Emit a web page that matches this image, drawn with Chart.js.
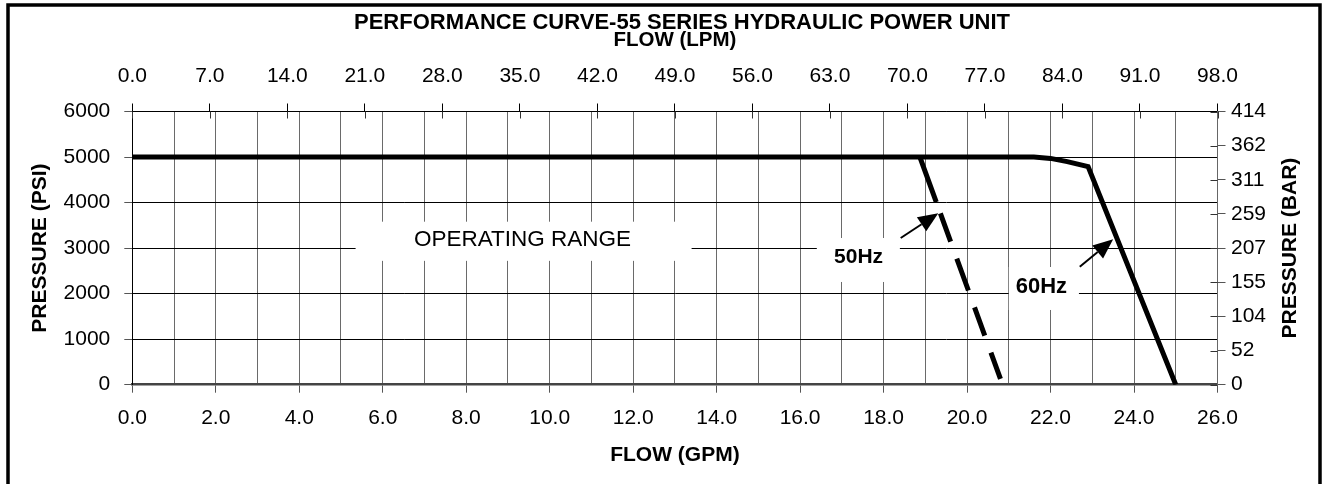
<!DOCTYPE html>
<html>
<head>
<meta charset="utf-8">
<title>Performance Curve - 55 Series Hydraulic Power Unit</title>
<script src="https://cdn.jsdelivr.net/npm/chart.js@4.4.1/dist/chart.umd.min.js"></script>
<style>
  html, body { margin: 0; padding: 0; background: #fff; }
  #wrap { width: 1322px; height: 484px; }
</style>
</head>
<body>
<div id="wrap"><canvas id="perfChart" width="1322" height="484"></canvas></div>
<script>
// tick labels
const gpmLabels = ['0.0', '2.0', '4.0', '6.0', '8.0', '10.0', '12.0', '14.0', '16.0', '18.0', '20.0', '22.0', '24.0', '26.0'];
const lpmLabels = ['0.0', '7.0', '14.0', '21.0', '28.0', '35.0', '42.0', '49.0', '56.0', '63.0', '70.0', '77.0', '84.0', '91.0', '98.0'];
const psiLabels = ['0', '1000', '2000', '3000', '4000', '5000', '6000'];
const barLabels = ['0', '52', '104', '155', '207', '259', '311', '362', '414'];

// curves (flow in GPM, pressure in PSI)
const flow60 = [0, 21.6, 22.0, 22.4, 22.9, 25.0];
const psi60 = [5000, 5000, 4970, 4900, 4790, 0];
const flow50 = [18.87, 20.8];
const psi50 = [5000, 130];

const FONT = "'Liberation Sans', Arial, Helvetica, sans-serif";
Chart.defaults.font.family = FONT;
Chart.defaults.color = '#000';

// text boxes on the plot, placed in data units
const notes = [
    { text: 'OPERATING RANGE', x: 9.35, y: 3180, size: 22.5, bold: false, box: [5.35, 13.4, 2720, 3580] },
    { text: '50Hz', x: 17.4, y: 2790, size: 21, bold: true, box: [16.4, 18.39, 2256, 3222] },
    { text: '60Hz', x: 21.78, y: 2150, size: 22, bold: true, box: [21.0, 22.68, 1641, 2585] }
];
const arrows = [
    { from: [18.41, 3222], to: [19.31, 3765] },
    { from: [22.70, 2592], to: [23.50, 3193] }
];

function fixWidth(w) {
    return function(scale) { scale.width = w; };
}
function fixHeight(h) {
    return function(scale) { scale.height = h; };
}

// short marks that poke into the plot from the top and right axes
function innerTicks(chart) {
    const c = chart.ctx;
    const top = chart.scales.x2, right = chart.scales.y2;
    c.save();
    c.strokeStyle = '#333';
    c.lineWidth = 1;
    c.beginPath();
    top.ticks.forEach(t => {
        const px = Math.round(top.getPixelForValue(t.value)) + 0.5;
        c.moveTo(px, top.bottom);
        c.lineTo(px, top.bottom + 7);
    });
    right.ticks.forEach(t => {
        const py = Math.round(right.getPixelForValue(t.value)) + 0.5;
        c.moveTo(right.left, py);
        c.lineTo(right.left - 7, py);
    });
    c.stroke();
    c.restore();
}

const curveLabels = {
    id: 'curveLabels',
    beforeDatasetsDraw(chart) {
        const c = chart.ctx;
        const xs = chart.scales.x, ys = chart.scales.y;
        innerTicks(chart);
        c.save();
        notes.forEach(n => {
            const l = xs.getPixelForValue(n.box[0]), r = xs.getPixelForValue(n.box[1]);
            const t = ys.getPixelForValue(n.box[3]), b = ys.getPixelForValue(n.box[2]);
            c.fillStyle = '#fff';
            c.fillRect(l, t, r - l, b - t);
            c.fillStyle = '#000';
            c.font = (n.bold ? 'bold ' : '') + n.size + 'px ' + FONT;
            c.textAlign = 'center';
            c.textBaseline = 'middle';
            c.fillText(n.text, xs.getPixelForValue(n.x), ys.getPixelForValue(n.y));
        });
        arrows.forEach(a => {
            const x1 = xs.getPixelForValue(a.from[0]), y1 = ys.getPixelForValue(a.from[1]);
            const x2 = xs.getPixelForValue(a.to[0]), y2 = ys.getPixelForValue(a.to[1]);
            const ang = Math.atan2(y2 - y1, x2 - x1);
            const head = 20, half = 8.5;
            const bx = x2 - head * Math.cos(ang), by = y2 - head * Math.sin(ang);
            c.strokeStyle = '#000';
            c.lineWidth = 2;
            c.beginPath();
            c.moveTo(x1, y1);
            c.lineTo(bx, by);
            c.stroke();
            c.beginPath();
            c.moveTo(x2, y2);
            c.lineTo(bx + half * Math.sin(ang), by - half * Math.cos(ang));
            c.lineTo(bx - half * Math.sin(ang), by + half * Math.cos(ang));
            c.closePath();
            c.fill();
        });
        c.restore();
    },
    afterDraw(chart) {
        const c = chart.ctx;
        c.save();
        // outer frame
        c.strokeStyle = '#000';
        c.lineWidth = 3.5;
        c.strokeRect(8, 5, 1312, 500);
        // main title
        c.fillStyle = '#000';
        c.font = 'bold 22px ' + FONT;
        c.textAlign = 'center';
        c.textBaseline = 'middle';
        c.fillText('PERFORMANCE CURVE-55 SERIES HYDRAULIC POWER UNIT', 682, 23);
        // right axis title, reads bottom to top
        const area = chart.chartArea;
        c.translate(1290, (area.top + area.bottom) / 2);
        c.rotate(-Math.PI / 2);
        c.font = 'bold 21px ' + FONT;
        c.fillText('PRESSURE (BAR)', 0, 0);
        c.restore();
    }
};

const ctx = document.getElementById('perfChart').getContext('2d');

new Chart(ctx, {
    type: 'line',
    data: {
        datasets: [{
            label: '60Hz',
            data: flow60.map((f, i) => ({ x: f, y: psi60[i] })),
            borderColor: '#000',
            borderWidth: 5,
            pointRadius: 0,
            tension: 0,
            xAxisID: 'x',
            yAxisID: 'y'
        }, {
            label: '50Hz',
            data: flow50.map((f, i) => ({ x: f, y: psi50[i] })),
            borderColor: '#000',
            borderWidth: 5,
            borderDash: [48, 12, 30, 18, 34, 18, 30, 18, 60, 10],
            pointRadius: 0,
            tension: 0,
            xAxisID: 'x',
            yAxisID: 'y'
        }]
    },
    options: {
        responsive: false,
        animation: false,
        layout: { padding: 0 },
        plugins: {
            legend: { display: false },
            tooltip: { enabled: false },
            title: { display: false }
        },
        scales: {
            x: {
                type: 'linear',
                position: 'bottom',
                min: 0,
                max: 26,
                afterFit: fixHeight(99.3),
                ticks: {
                    stepSize: 1,
                    autoSkip: false,
                    maxRotation: 0,
                    padding: 13,
                    font: { size: 21 },
                    callback: (v, i) => i % 2 === 0 ? gpmLabels[i / 2] : ''
                },
                grid: {
                    color: '#6a6a6a',
                    lineWidth: 1,
                    tickLength: 8,
                    tickColor: c => c.index % 2 === 0 ? '#555' : 'rgba(0,0,0,0)'
                },
                border: { color: '#444', width: 2.5 },
                title: {
                    display: true,
                    text: 'FLOW (GPM)',
                    font: { size: 21, weight: 'bold' },
                    padding: { top: 0, bottom: 16 }
                }
            },
            x2: {
                type: 'linear',
                position: 'top',
                min: 0,
                max: 98,
                afterFit: fixHeight(111.5),
                ticks: {
                    stepSize: 7,
                    autoSkip: false,
                    maxRotation: 0,
                    padding: 15,
                    font: { size: 21 },
                    callback: (v, i) => lpmLabels[i]
                },
                grid: { drawOnChartArea: false, tickLength: 8, color: '#000' },
                border: { color: '#000' },
                title: {
                    display: true,
                    text: 'FLOW (LPM)',
                    font: { size: 20.5, weight: 'bold' },
                    padding: { top: 27.7, bottom: 0 }
                }
            },
            y: {
                position: 'left',
                min: 0,
                max: 6000,
                afterFit: fixWidth(132.3),
                ticks: {
                    stepSize: 1000,
                    padding: 14,
                    font: { size: 21 },
                    callback: (v, i) => psiLabels[i]
                },
                grid: { color: '#000', lineWidth: 1, tickLength: 8, tickColor: '#555' },
                border: { color: '#000' },
                title: {
                    display: true,
                    text: 'PRESSURE (PSI)',
                    font: { size: 21, weight: 'bold' },
                    padding: { top: 27.4, bottom: 0 }
                }
            },
            y2: {
                position: 'right',
                min: 0,
                max: 6000,
                afterFit: fixWidth(104.5),
                ticks: {
                    stepSize: 750,
                    padding: 5.5,
                    font: { size: 21 },
                    callback: (v, i) => barLabels[i]
                },
                grid: { drawOnChartArea: false, tickLength: 8, color: '#555' },
                border: { color: '#666' }
            }
        }
    },
    plugins: [curveLabels]
});
</script>
</body>
</html>
